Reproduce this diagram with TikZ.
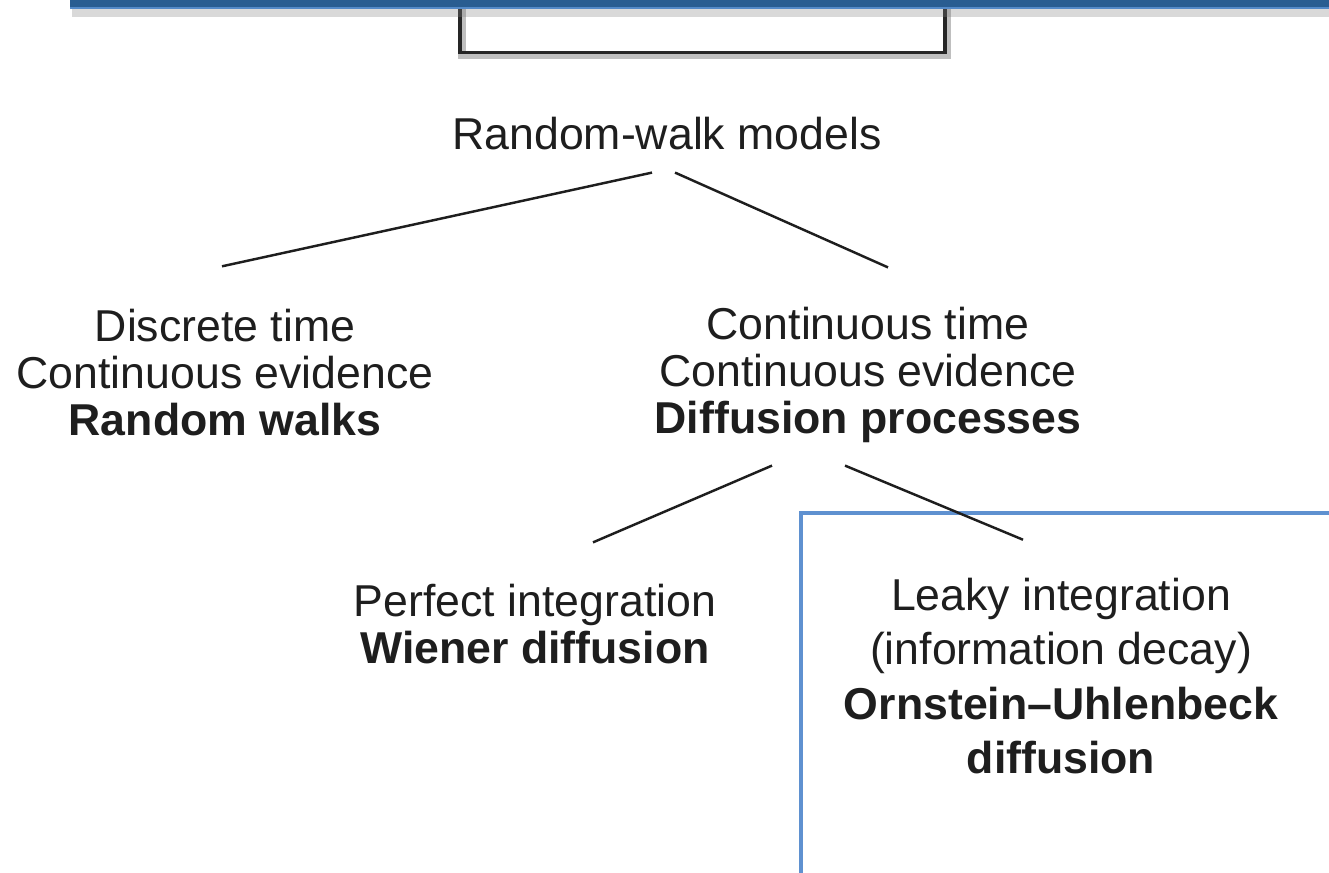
\documentclass[tikz,border=0pt]{standalone}
\usepackage{fontspec}
\setmainfont{Liberation Sans}
\usepackage{xcolor}
\usepackage{tikz}
\usetikzlibrary{positioning, shadows}
\definecolor{barblue}{RGB}{41,93,145}
\definecolor{barlight}{RGB}{84,138,200}
\definecolor{frameblue}{RGB}{95,145,208}
\definecolor{inkgray}{RGB}{30,30,30}

\begin{document}
\begin{tikzpicture}[
  label/.style={inner sep=0pt, align=center, text=inkgray,
               font=\fontsize{12.7}{13.4}\selectfont},
  widelabel/.style={label, font=\fontsize{12.7}{15.4}\selectfont},
  link/.style={draw=inkgray, line width=0.7pt}
]
\useasboundingbox (0,0) rectangle (13.29,-8.72);

% empty box under the header bar
\draw[black!25, line width=2.2pt] (4.62,0.2) |- (9.47,-0.55) -- (9.47,0.2);
\draw[black!85, line width=0.9pt] (4.6,0.2) |- (9.45,-0.525) -- (9.45,0.2);
\fill[barblue, drop shadow={shadow xshift=0.6pt, shadow yshift=-2.5pt, opacity=0.3}]
  (0.7,0.3) rectangle (13.5,-0.085);
\draw[barlight, line width=0.6pt] (0.7,-0.08) -- (13.5,-0.08);

% frame round the last node
\draw[frameblue, line width=1pt] (8.01,-5.13) rectangle (13.6,-9);

\node[label] (rw) at (6.67,-1.335) {Random-walk models};
\node[label] (dt) at (2.25,-3.725) {Discrete time\\Continuous evidence\\\textbf{Random walks}};
\node[label] (ct) at (8.68,-3.75) {Continuous time\\Continuous evidence\\\textbf{Diffusion processes}};
\node[label] (pi) at (5.35,-6.24) {Perfect integration\\\textbf{Wiener diffusion}};
\node[widelabel] (li) at (10.61,-6.76) {Leaky integration\\(information decay)\\\textbf{Ornstein--Uhlenbeck}\\\textbf{diffusion}};

\draw[link] ([xshift=-1.5mm, yshift=-2.2mm]rw.south) -- ([xshift=-0.3mm, yshift=4.2mm]dt.north);
\draw[link] ([xshift=0.8mm, yshift=-2.2mm]rw.south) -- ([xshift=2mm, yshift=3.9mm]ct.north);
\draw[link] ([xshift=-9.6mm, yshift=-2.2mm]ct.south) -- ([xshift=5.8mm, yshift=4.1mm]pi.north);
\draw[link] ([xshift=-2.3mm, yshift=-2.2mm]ct.south) -- ([xshift=-3.8mm, yshift=3.8mm]li.north);
\end{tikzpicture}
\end{document}
